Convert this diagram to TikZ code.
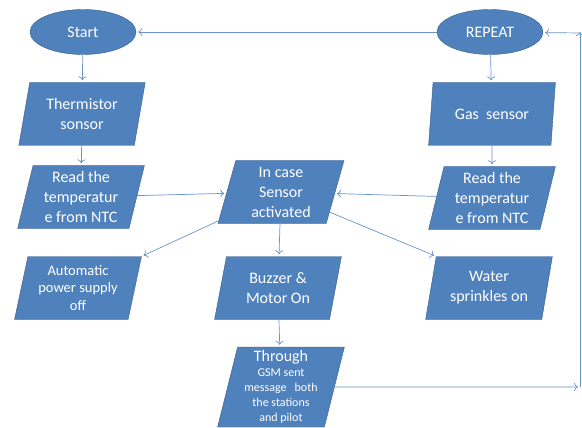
\documentclass[tikz,border=0pt]{standalone}
\usepackage{fontspec}
\setmainfont{Carlito}
\usetikzlibrary{shapes.geometric,arrows.meta}
\definecolor{boxblue}{HTML}{4F81BD}
\definecolor{boxedge}{HTML}{385D8A}
\definecolor{linkblue}{HTML}{6A93CC}
\tikzset{
  term/.style={ellipse, fill=boxblue, draw=boxedge, text=white,
    minimum width=106pt, minimum height=45pt, font=\fontsize{16}{20}\selectfont},
  io/.style={trapezium, trapezium left angle=77, trapezium right angle=103,
    trapezium stretches=true, fill=boxblue, draw=boxedge, text=white,
    align=center, inner sep=1pt, minimum width=127pt, minimum height=63pt,
    font=\fontsize{16}{20}\selectfont},
  small/.style={font=\fontsize{14.5}{17.5}\selectfont},
  flow/.style={draw=linkblue, line width=0.7pt, shorten >=2pt,
    -{To[length=4pt,width=8pt]}},
}
\newcommand*{\Links}[1]{% #1 = list of from/to
  \foreach \a/\b in {#1} {
    \draw [flow] (\a) -- (\b);
  }%
}

\begin{document}
\begin{tikzpicture}[x=1pt, y=-1pt]
  \useasboundingbox (0,0) rectangle (582,428);
  % terminals
  \node [term] (start)  at (83,32)  {Start};
  \node [term] (repeat) at (490,32) {REPEAT};
  % left column
  \node [io] (thermistor) at (82,114) {Thermistor\\sonsor};
  \node [io] (readL)      at (81,197) {Read the\\temperatur\\e from NTC};
  \node [io, small] (auto) at (78,288) {Automatic\\power supply\\off};
  % middle column
  \node [io] (incase)  at (281,192) {In case\\Sensor\\activated};
  \node [io] (buzzer)  at (278,288) {Buzzer \&\\Motor On};
  \node [io, minimum height=80pt, font=\fontsize{12}{15}\selectfont] (through) at (281,387)
    {{\fontsize{16}{18}\selectfont Through}\\GSM sent\\message~~ both\\the stations\\and pilot};
  % right column
  \node [io] (gas)   at (492,114) {Gas~~sensor};
  \node [io] (readR) at (492,198) {Read the\\temperatur\\e from NTC};
  \node [io] (water) at (489,288) {Water\\sprinkles on};
  % loop back
  \coordinate (loopB) at (580,387);
  \coordinate (loopT) at (580,30);
  \coordinate (loopR) at (580,33);

  \Links{start/thermistor, thermistor/readL, readL/incase, readR/incase,
    incase/auto.top right corner, incase/buzzer, incase/water.top left corner,
    buzzer/through, repeat/gas, gas/readR, repeat/start}
  \Links{through/loopB, loopB/loopT, loopR/repeat}
\end{tikzpicture}
\end{document}
